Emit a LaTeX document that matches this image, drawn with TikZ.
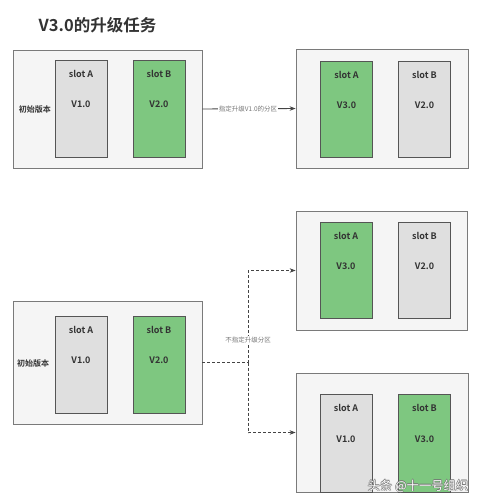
\documentclass[tikz,border=0pt]{standalone}
\usepackage{fontspec}
\setmainfont{Noto Sans CJK SC}
\newfontfamily\cjkb{Noto Sans CJK SC Bold}
\usetikzlibrary{arrows.meta}
\definecolor{outerfill}{HTML}{F5F5F5}
\definecolor{outerdraw}{HTML}{7A7A7A}
\definecolor{grayfill}{HTML}{DFDFDF}
\definecolor{greenfill}{HTML}{7EC780}
\definecolor{slotdraw}{HTML}{555555}
\definecolor{txt}{HTML}{333333}
\definecolor{lbltxt}{HTML}{777777}
\definecolor{linec}{HTML}{444444}
\tikzset{
  outerbox/.style={draw=outerdraw, fill=outerfill, line width=0.8pt, inner sep=0pt},
  grayslot/.style={draw=slotdraw, fill=grayfill, line width=1pt, minimum width=52pt, inner sep=0pt},
  greenslot/.style={draw=slotdraw, fill=greenfill, line width=1pt, minimum width=52pt, inner sep=0pt},
  slottxt/.style={text=txt, font=\cjkb\fontsize{9}{10}\selectfont, inner sep=0pt},
  sidetxt/.style={text=txt, font=\cjkb\fontsize{8}{9}\selectfont, inner sep=0pt},
  lbl/.style={text=lbltxt, font=\fontsize{6.5}{7}\selectfont, fill=white, inner sep=0.5pt},
  conn/.style={draw=linec, line width=0.9pt, -{Stealth[length=6pt,width=4.5pt]}},
  dconn/.style={draw=linec, line width=0.9pt, dash pattern=on 3pt off 2pt},
  wm/.style={font=\fontsize{12.3}{13}\selectfont, inner sep=0pt}
}
\begin{document}
\begin{tikzpicture}[x=1pt,y=-1pt]
\useasboundingbox (0,0) rectangle (480,504);
\fill[white] (0,0) rectangle (480,504);

\node[text=txt, font=\cjkb\fontsize{16.5}{18}\selectfont, inner sep=0pt] (title) at (97.5,25) {V3.0的升级任务};

% box 1 (top left)
\node[outerbox, minimum width=189pt, minimum height=118pt] (box1) at (107.5,109) {};
\node[grayslot, minimum height=97pt] (s1a) at (81,108.5) {};
\node[greenslot, minimum height=97pt] (s1b) at (159,108.5) {};
\node[slottxt] (t1a) at (81,74) {slot A};
\node[slottxt] (v1a) at (81,104) {V1.0};
\node[slottxt] (t1b) at (159,74) {slot B};
\node[slottxt] (v1b) at (159,104) {V2.0};
\node[sidetxt] (side1) at (35,109) {初始版本};

% box 2 (top right)
\node[outerbox, minimum width=172pt, minimum height=119pt] (box2) at (382,108.5) {};
\node[greenslot, minimum height=96pt] (s2a) at (346.5,109) {};
\node[grayslot, minimum height=96pt] (s2b) at (424.5,109) {};
\node[slottxt] (t2a) at (346.5,75) {slot A};
\node[slottxt] (v2a) at (346.5,105) {V3.0};
\node[slottxt] (t2b) at (424.5,75) {slot B};
\node[slottxt] (v2b) at (424.5,105) {V2.0};

\draw[conn] (box1.east) -- (box2.west) node[lbl, pos=0.49] (l1) {指定升级V1.0的分区};

% box 3 (bottom left)
\node[outerbox, minimum width=189pt, minimum height=123pt] (box3) at (107.5,362.5) {};
\node[grayslot, minimum height=97pt] (s3a) at (81,364.5) {};
\node[greenslot, minimum height=97pt] (s3b) at (159,364.5) {};
\node[slottxt] (t3a) at (81,330) {slot A};
\node[slottxt] (v3a) at (81,360) {V1.0};
\node[slottxt] (t3b) at (159,330) {slot B};
\node[slottxt] (v3b) at (159,360) {V2.0};
\node[sidetxt] (side3) at (33,363) {初始版本};

% box 4 (middle right)
\node[outerbox, minimum width=171pt, minimum height=119pt] (box4) at (381.5,270.5) {};
\node[greenslot, minimum height=96pt] (s4a) at (346,270) {};
\node[grayslot, minimum height=96pt] (s4b) at (424.5,270) {};
\node[slottxt] (t4a) at (346,236) {slot A};
\node[slottxt] (v4a) at (346,266) {V3.0};
\node[slottxt] (t4b) at (424.5,236) {slot B};
\node[slottxt] (v4b) at (424.5,266) {V2.0};

% box 5 (bottom right)
\node[outerbox, minimum width=172pt, minimum height=119pt] (box5) at (382,432.5) {};
\node[grayslot, minimum height=98pt] (s5a) at (346,443) {};
\node[greenslot, minimum height=98pt] (s5b) at (424.5,443) {};
\node[slottxt] (t5a) at (346,408) {slot A};
\node[slottxt] (v5a) at (346,439) {V1.0};
\node[slottxt] (t5b) at (424.5,408) {slot B};
\node[slottxt] (v5b) at (424.5,439) {V3.0};

% dashed connectors
\coordinate (jn) at (248,362.5);
\draw[dconn] (box3.east) -- (jn);
\draw[dconn, -{Stealth[length=6pt,width=4.5pt]}] (jn) |- (box4.west);
\draw[dconn, -{Stealth[length=6pt,width=4.5pt]}] (jn) |- (box5.west);
\node[lbl] (l2) at (248,340) {不指定升级分区};

% watermark
\begin{scope}[text=black!55]
\foreach \dx/\dy in {-0.6/0,0.6/0,0/-0.6,0/0.6}
  \node[wm] at (418+\dx,486+\dy) {头条 @十一号组织};
\end{scope}
\node[wm, text=white] (wmark) at (418,486) {头条 @十一号组织};
\end{tikzpicture}
\end{document}
